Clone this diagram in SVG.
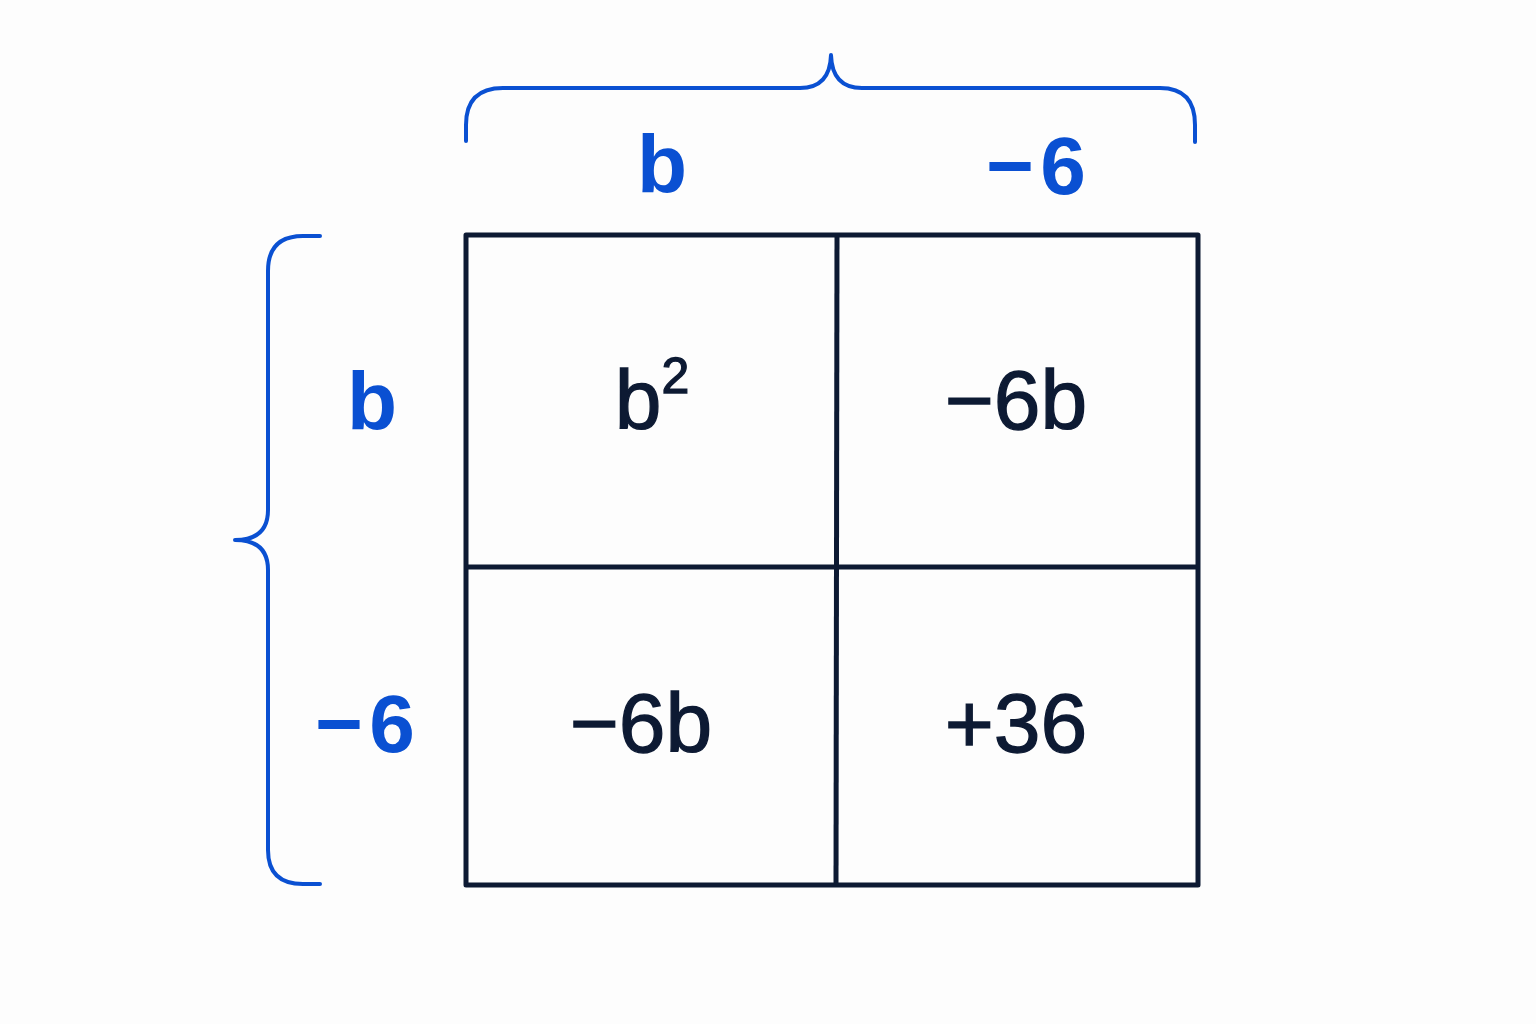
<svg xmlns="http://www.w3.org/2000/svg" width="1536" height="1024" viewBox="0 0 1536 1024">
<style>
.bg{fill:#fdfdfd}
.grid{fill:none;stroke:#0d1a33;stroke-width:5;stroke-linejoin:round}
.brace{fill:none;stroke:#0a50d2;stroke-width:4;stroke-linecap:round;stroke-linejoin:round}
.lbl{font-family:"Liberation Sans",Arial,sans-serif;font-size:82px;font-weight:bold;fill:#0a50d2;text-anchor:middle}
.cell{font-family:"Liberation Sans",Arial,sans-serif;font-size:84px;fill:#0d1a33;stroke:#0d1a33;stroke-width:1.3;text-anchor:middle}
</style>
<rect class="bg" x="0" y="0" width="1536" height="1024"/>
<g id="braces">
<path id="brace-top" class="brace" d="M466,141 L466,125 Q466,88 503,88 L800,88 Q830,88 831,55 Q832,88 862,88 L1160,88 Q1195,88 1195,125 L1195,142"/>
<path id="brace-left" class="brace" d="M320,236 L303,236 Q268,236 268,271 L268,510 Q268,540 235,540 Q268,540 268,570 L268,850 Q268,884 303,884 L320,884"/>
</g>
<g id="grid">
<rect class="grid" x="466" y="235" width="732" height="650"/>
<line class="grid" x1="837" y1="235" x2="836" y2="885"/>
<line class="grid" x1="466" y1="567" x2="1198" y2="567"/>
</g>
<g id="label-top-b"><text class="lbl" x="662" y="192">b</text></g>
<g id="label-top-m6"><text class="lbl" x="1036" y="194">−<tspan dx="6">6</tspan></text></g>
<g id="label-left-b"><text class="lbl" x="372" y="429">b</text></g>
<g id="label-left-m6"><text class="lbl" x="365" y="752">−<tspan dx="6">6</tspan></text></g>
<g id="cell-b2"><text class="cell" x="652" y="429">b<tspan font-size="50" dy="-36">2</tspan></text></g>
<g id="cell-m6b-top"><text class="cell" x="1016" y="429">−6b</text></g>
<g id="cell-m6b-bottom"><text class="cell" x="641" y="752">−6b</text></g>
<g id="cell-p36"><text class="cell" x="1016" y="752">+36</text></g>
</svg>
